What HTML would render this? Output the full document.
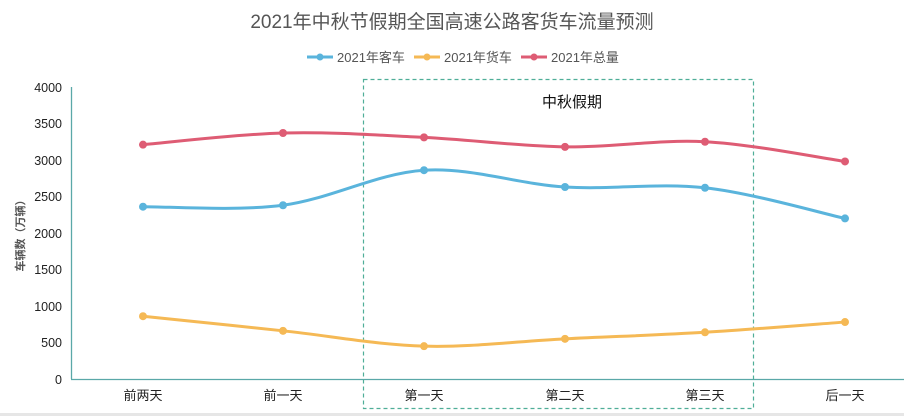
<!DOCTYPE html>
<html><head><meta charset="utf-8"><style>
html,body{margin:0;padding:0;background:#fff;}
svg{display:block;font-family:"Liberation Sans","Noto Sans CJK SC",sans-serif;}
</style></head><body>
<svg id="s" width="904" height="416" xmlns="http://www.w3.org/2000/svg">
<rect width="904" height="416" fill="#fff"/>
<rect x="0" y="413" width="904" height="3" fill="#e6e6e6"/>
<text x="452" y="28" font-size="19" fill="#555" text-anchor="middle">2021年中秋节假期全国高速公路客货车流量预测</text>
<g font-size="13" fill="#555">
<line x1="307" y1="57" x2="333" y2="57" stroke="#5ab4dc" stroke-width="3"/><circle cx="320" cy="57" r="3.5" fill="#5ab4dc"/>
<text x="337" y="62">2021年客车</text>
<line x1="414" y1="57" x2="440" y2="57" stroke="#f5b955" stroke-width="3"/><circle cx="427" cy="57" r="3.5" fill="#f5b955"/>
<text x="444" y="62">2021年货车</text>
<line x1="521" y1="57" x2="547" y2="57" stroke="#de5c74" stroke-width="3"/><circle cx="534" cy="57" r="3.5" fill="#de5c74"/>
<text x="551" y="62">2021年总量</text>
</g>
<g font-size="12.5" fill="#222" text-anchor="end">
<text x="62" y="92">4000</text><text x="62" y="128">3500</text><text x="62" y="165">3000</text>
<text x="62" y="201">2500</text><text x="62" y="238">2000</text><text x="62" y="274">1500</text>
<text x="62" y="311">1000</text><text x="62" y="347">500</text><text x="62" y="384">0</text>
</g>
<text transform="translate(24,233) rotate(-90)" font-size="11" fill="#555" font-weight="bold" text-anchor="middle">车辆数（万辆）</text>
<line x1="71.5" y1="87" x2="71.5" y2="379" stroke="#5aa8a8" stroke-width="1.3"/>
<line x1="71" y1="379.5" x2="904" y2="379.5" stroke="#5aa8a8" stroke-width="1.3"/>
<rect x="363.5" y="79.5" width="390" height="329" fill="none" stroke="#4fae98" stroke-width="1.2" stroke-dasharray="4,3"/>
<text x="572" y="107" font-size="15" fill="#111" text-anchor="middle">中秋假期</text>
<g font-size="13" fill="#222" text-anchor="middle">
<text x="143" y="400">前两天</text><text x="283" y="400">前一天</text><text x="424" y="400">第一天</text>
<text x="565" y="400">第二天</text><text x="705" y="400">第三天</text><text x="845" y="400">后一天</text>
</g>
<g id="series"></g>
</svg>
<script>
var xs=[143,283,424,565,705,845];
function Y(v){return 379-v*0.073;}
var data=[[[2360,2380,2860,2630,2620,2200],"#5ab4dc"],[[860,660,450,550,640,780],"#f5b955"],[[3210,3370,3310,3180,3250,2980],"#de5c74"]];
var g=document.getElementById("series"),h="";
data.forEach(function(d){
 var p=d[0].map(function(v,i){return [xs[i],Y(v)];});
 var s="M"+p[0][0]+","+p[0][1];
 for(var i=0;i<p.length-1;i++){
  var p0=p[i-1]||p[i],p1=p[i],p2=p[i+1],p3=p[i+2]||p2,t=6;
  s+=" C"+(p1[0]+(p2[0]-p0[0])/t)+","+(p1[1]+(p2[1]-p0[1])/t)+" "+(p2[0]-(p3[0]-p1[0])/t)+","+(p2[1]-(p3[1]-p1[1])/t)+" "+p2[0]+","+p2[1];
 }
 h+='<path d="'+s+'" fill="none" stroke="'+d[1]+'" stroke-width="3"/>';
 p.forEach(function(q){h+='<circle cx="'+q[0]+'" cy="'+q[1]+'" r="4" fill="'+d[1]+'"/>';});
});
g.innerHTML=h;
</script>
</body></html>
